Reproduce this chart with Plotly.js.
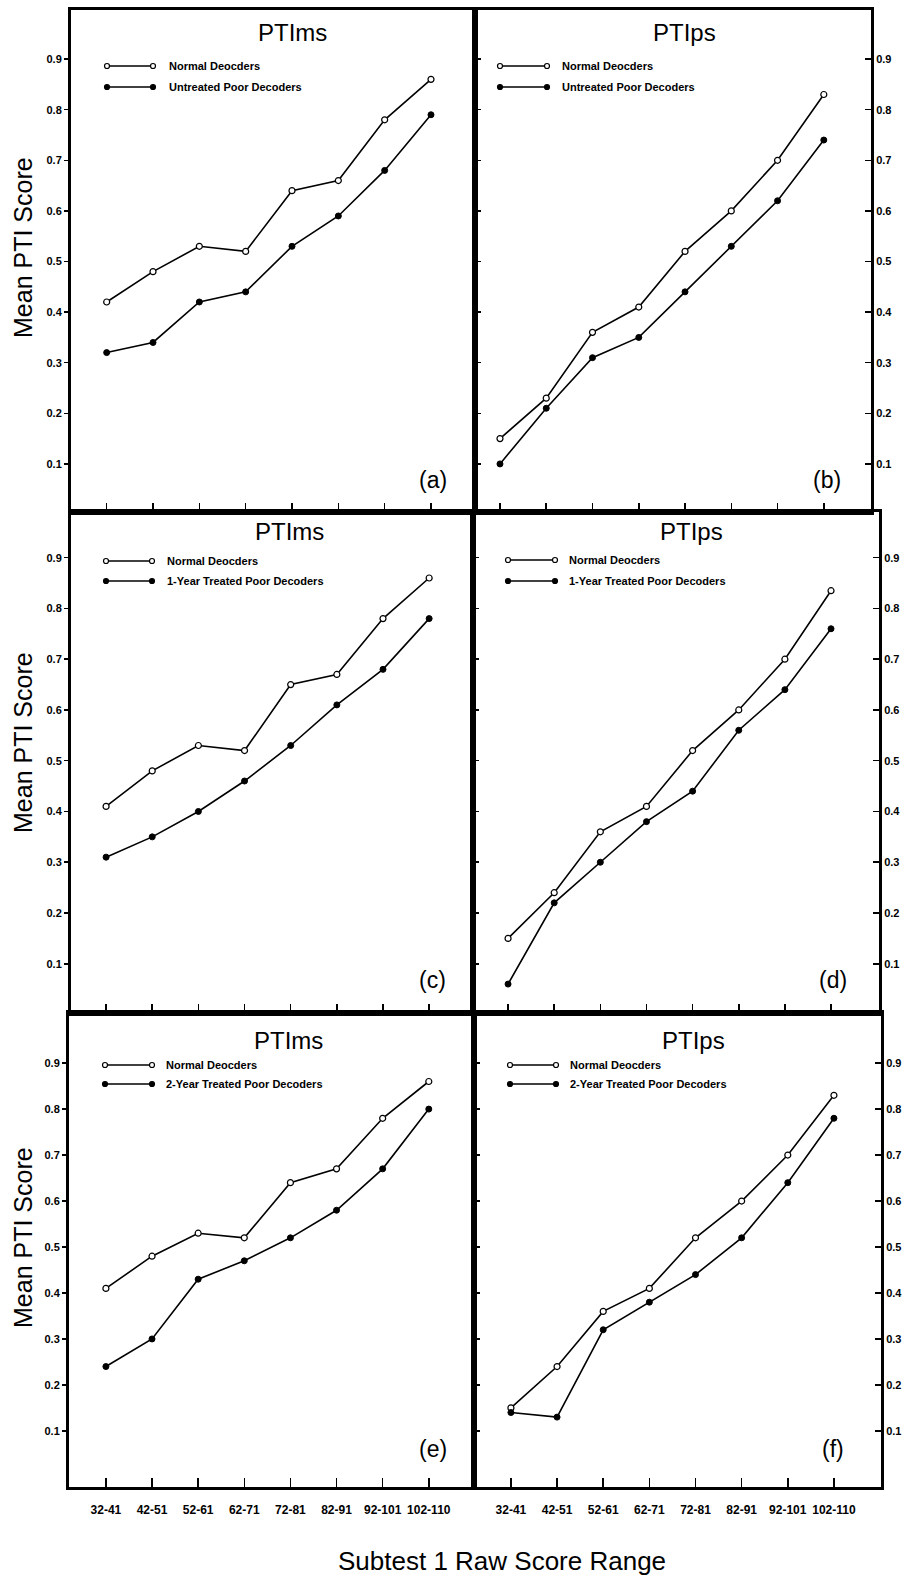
<!DOCTYPE html>
<html>
<head>
<meta charset="utf-8">
<script src="https://cdn.plot.ly/plotly-3.0.1.min.js"></script>
<style>
  html, body { margin: 0; padding: 0; background: #fff; }
  #chart { width: 911px; height: 1577px; }
</style>
</head>
<body>
<div id="chart"></div>
<script>
// ---------- DATA ----------
const categories = ['32-41', '42-51', '52-61', '62-71', '72-81', '82-91', '92-101', '102-110'];
const yTickVals = [0.1, 0.2, 0.3, 0.4, 0.5, 0.6, 0.7, 0.8, 0.9];
const yTickText = ['0.1', '0.2', '0.3', '0.4', '0.5', '0.6', '0.7', '0.8', '0.9'];

const normalA    = [0.42, 0.48, 0.53, 0.52, 0.64, 0.66, 0.78, 0.86];
const untreatedA = [0.32, 0.34, 0.42, 0.44, 0.53, 0.59, 0.68, 0.79];
const normalB    = [0.15, 0.23, 0.36, 0.41, 0.52, 0.60, 0.70, 0.83];
const untreatedB = [0.10, 0.21, 0.31, 0.35, 0.44, 0.53, 0.62, 0.74];
const normalC    = [0.41, 0.48, 0.53, 0.52, 0.65, 0.67, 0.78, 0.86];
const year1C     = [0.31, 0.35, 0.40, 0.46, 0.53, 0.61, 0.68, 0.78];
const normalD    = [0.15, 0.24, 0.36, 0.41, 0.52, 0.60, 0.70, 0.835];
const year1D     = [0.06, 0.22, 0.30, 0.38, 0.44, 0.56, 0.64, 0.76];
const normalE    = [0.41, 0.48, 0.53, 0.52, 0.64, 0.67, 0.78, 0.86];
const year2E     = [0.24, 0.30, 0.43, 0.47, 0.52, 0.58, 0.67, 0.80];
const normalF    = [0.15, 0.24, 0.36, 0.41, 0.52, 0.60, 0.70, 0.83];
const year2F     = [0.14, 0.13, 0.32, 0.38, 0.44, 0.52, 0.64, 0.78];

const panelTitles = ['PTIms', 'PTIps', 'PTIms', 'PTIps', 'PTIms', 'PTIps'];
const panelLetters = ['(a)', '(b)', '(c)', '(d)', '(e)', '(f)'];
const normalName = 'Normal Deocders';
const poorNames = ['Untreated Poor Decoders', 'Untreated Poor Decoders',
                   '1-Year Treated Poor Decoders', '1-Year Treated Poor Decoders',
                   '2-Year Treated Poor Decoders', '2-Year Treated Poor Decoders'];
const normalSeries = [normalA, normalB, normalC, normalD, normalE, normalF];
const poorSeries = [untreatedA, untreatedB, year1C, year1D, year2E, year2F];
const yTitle = 'Mean PTI Score';
const xTitle = 'Subtest 1 Raw Score Range';

// ---------- GEOMETRY (pixels) ----------
const W = 911, H = 1577;
const px = v => v / W;
const py = v => 1 - v / H;
const rows = [[10, 512], [512, 1013], [1013, 1487]];
const rowCols = [ // [left, divider, right] per row
  [71, 475, 871],
  [71, 473, 879],
  [69, 474, 881]
];
const xRanges = [[-0.77, 7.95], [-0.54, 8.02], [-0.76, 7.95], [-0.76, 8.04], [-0.8, 7.98], [-0.8, 8.02]];
const yRanges = [[0.005, 0.997], [0.005, 0.997], [0.003, 0.99], [0.003, 0.99], [-0.022, 1.009], [-0.022, 1.009]];
const titlePos  = [[292, 32], [684, 32], [289, 531], [691, 531], [288, 1040], [693, 1040]];
const letterPos = [[433, 480], [827, 480], [432, 980], [833, 980], [433, 1449], [833, 1449]];
const yTitleY = [248, 743, 1238];
const legendGeo = [ // x1, x2, yRow1, yRow2, textX
  [107, 153, 66, 87, 167], [500, 547, 66, 87, 560],
  [106, 152, 561, 581, 165], [508, 555, 560, 581, 567],
  [105, 152, 1065, 1084, 164], [510, 556, 1065, 1084, 568]
];

const FONT = 'Liberation Sans, Arial, Helvetica, sans-serif';
const traces = [];
const layout = {
  width: W, height: H,
  margin: {l: 0, r: 0, t: 0, b: 0},
  paper_bgcolor: '#fff', plot_bgcolor: '#fff',
  showlegend: false,
  font: {family: FONT, color: '#000'},
  annotations: [], shapes: []
};

for (let i = 0; i < 6; i++) {
  const r = Math.floor(i / 2), c = i % 2;
  const n = i + 1;
  const xa = n === 1 ? 'x' : 'x' + n;
  const ya = n === 1 ? 'y' : 'y' + n;
  const xKey = n === 1 ? 'xaxis' : 'xaxis' + n;
  const yKey = n === 1 ? 'yaxis' : 'yaxis' + n;
  const bottomRow = r === 2;
  const colL = rowCols[r][c], colR = rowCols[r][c + 1];

  layout[xKey] = {
    domain: [px(colL), px(colR)],
    anchor: ya, type: 'category',
    range: xRanges[i],
    tickmode: 'array', tickvals: categories, ticktext: categories,
    ticks: 'inside', ticklen: 9, tickwidth: 1.5, tickcolor: '#000',
    showticklabels: bottomRow,
    ticklabelstandoff: 10,
    tickfont: {family: FONT, size: 12, weight: 'bold', color: '#000'},
    showline: true, linewidth: 3, linecolor: '#000', mirror: true,
    showgrid: false, zeroline: false, fixedrange: true
  };
  const yAx = {
    domain: [py(rows[r][1]), py(rows[r][0])],
    anchor: xa, range: yRanges[i],
    tickmode: 'array', tickvals: yTickVals, ticktext: yTickText,
    tickwidth: 1.5, tickcolor: '#000',
    tickfont: {family: FONT, size: 11, weight: 'bold', color: '#000'},
    showline: true, linewidth: 3, linecolor: '#000',
    showgrid: false, zeroline: false, fixedrange: true
  };
  if (c === 0) {
    Object.assign(yAx, {side: 'left', ticks: 'outside', ticklen: 4, mirror: true});
  } else {
    Object.assign(yAx, {side: 'right', ticks: 'inside', ticklen: 6, mirror: 'ticks'});
  }
  layout[yKey] = yAx;

  if (c === 1) {
    // extra tick marks protruding left of the shared divider
    const on = 6 + n;
    layout['yaxis' + on] = {
      overlaying: ya, anchor: xa, side: 'left', range: yRanges[i],
      tickmode: 'array', tickvals: yTickVals, ticks: 'outside', ticklen: 9,
      tickwidth: 1.5, tickcolor: '#000', showticklabels: false,
      showline: false, showgrid: false, zeroline: false, fixedrange: true
    };
  } else {
    layout.annotations.push({
      xref: 'paper', yref: 'paper', x: px(23), y: py(yTitleY[r]),
      xanchor: 'center', yanchor: 'middle', showarrow: false, textangle: -90,
      text: yTitle, font: {family: FONT, size: 25, color: '#000'}
    });
  }

  traces.push({
    type: 'scatter', mode: 'lines+markers', name: normalName,
    x: categories, y: normalSeries[i], xaxis: xa, yaxis: ya,
    line: {color: '#000', width: 1.6},
    marker: {symbol: 'circle', size: 6, color: '#fff', line: {color: '#000', width: 1.2}},
    cliponaxis: false
  });
  traces.push({
    type: 'scatter', mode: 'lines+markers', name: poorNames[i],
    x: categories, y: poorSeries[i], xaxis: xa, yaxis: ya,
    line: {color: '#000', width: 1.6},
    marker: {symbol: 'circle', size: 6, color: '#000', line: {color: '#000', width: 1}},
    cliponaxis: false
  });

  layout.annotations.push({
    xref: 'paper', yref: 'paper', x: px(titlePos[i][0]), y: py(titlePos[i][1]),
    xanchor: 'center', yanchor: 'middle', showarrow: false,
    text: panelTitles[i], font: {family: FONT, size: 24, color: '#000'}
  });
  layout.annotations.push({
    xref: 'paper', yref: 'paper', x: px(letterPos[i][0]), y: py(letterPos[i][1]),
    xanchor: 'center', yanchor: 'middle', showarrow: false,
    text: panelLetters[i], font: {family: FONT, size: 23, color: '#000'}
  });
  const g = legendGeo[i];
  const rowsY = [g[2], g[3]];
  const names = [normalName, poorNames[i]];
  for (let k = 0; k < 2; k++) {
    const yy = rowsY[k];
    layout.shapes.push({type: 'line', xref: 'paper', yref: 'paper',
      x0: px(g[0]), x1: px(g[1]), y0: py(yy), y1: py(yy),
      line: {color: '#000', width: 1.5}});
    for (const xx of [g[0], g[1]]) {
      layout.shapes.push({type: 'circle', xref: 'paper', yref: 'paper',
        x0: px(xx - 2.5), x1: px(xx + 2.5), y0: py(yy + 2.5), y1: py(yy - 2.5),
        fillcolor: k === 0 ? '#fff' : '#000', line: {color: '#000', width: 1.2}});
    }
    layout.annotations.push({
      xref: 'paper', yref: 'paper', x: px(g[4]), y: py(yy),
      xanchor: 'left', yanchor: 'middle', showarrow: false,
      text: names[k], font: {family: FONT, size: 11, weight: 'bold', color: '#000'}
    });
  }
}

layout.annotations.push({
  xref: 'paper', yref: 'paper', x: px(502), y: py(1561),
  xanchor: 'center', yanchor: 'middle', showarrow: false,
  text: xTitle, font: {family: FONT, size: 26, color: '#000'}
});

Plotly.newPlot('chart', traces, layout, {staticPlot: true, displayModeBar: false});
</script>
</body>
</html>
